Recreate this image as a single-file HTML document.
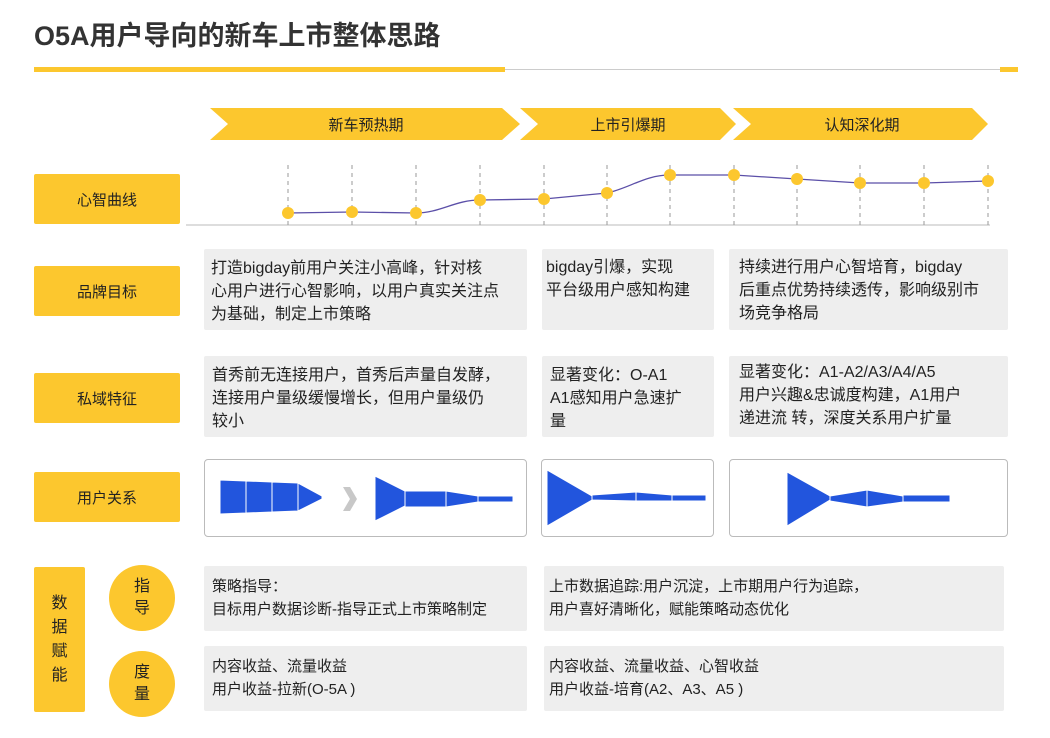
<!DOCTYPE html><html><head><meta charset="utf-8"><style>
body{margin:0;width:1050px;height:738px;background:#fff;font-family:"Liberation Sans","Noto Sans CJK SC",sans-serif;position:relative;overflow:hidden;color:#222}
.a{position:absolute}
.lab{position:absolute;background:#fcc72e;color:#222;font-size:15px;display:flex;align-items:center;justify-content:center;border-radius:2px}
.g{position:absolute;background:#eeeeee;font-size:16px;line-height:23px;padding:8px 8px;box-sizing:border-box;border-radius:2px;white-space:nowrap}
.w{position:absolute;border:1px solid #bbb;border-radius:4px;box-sizing:border-box;background:#fff}
.c{position:absolute;width:66px;height:66px;border-radius:50%;background:#fcc72e;font-size:16px;line-height:22px;text-align:center;display:flex;align-items:center;justify-content:center}
</style></head><body>
<div class="a" style="left:34px;top:14px;font-size:27px;font-weight:bold;color:#333">O5A用户导向的新车上市整体思路</div>
<div class="a" style="left:34px;top:67px;width:471px;height:5px;background:#fcc72e"></div>
<div class="a" style="left:505px;top:69px;width:495px;height:1px;background:#ccc"></div>
<div class="a" style="left:1000px;top:67px;width:18px;height:5px;background:#fcc72e"></div>
<svg class="a" style="left:0;top:0" width="1050" height="738">
<g fill="#fcc72e">
<polygon points="210,108 502,108 520,124 502,140 210,140 228,124"/>
<polygon points="520,108 720,108 736,124 720,140 520,140 538,124"/>
<polygon points="733,108 972,108 988,124 972,140 733,140 751,124"/>
</g>
<g font-size="15" fill="#222" text-anchor="middle" font-family="Liberation Sans,Noto Sans CJK SC,sans-serif">
<text x="366" y="130">新车预热期</text><text x="628" y="130">上市引爆期</text><text x="862" y="130">认知深化期</text></g>
<line x1="186" y1="225" x2="990" y2="225" stroke="#bbb"/>
<g stroke="#999" stroke-dasharray="4,4">
<line x1="288" y1="165" x2="288" y2="225"/><line x1="352" y1="165" x2="352" y2="225"/><line x1="416" y1="165" x2="416" y2="225"/><line x1="480" y1="165" x2="480" y2="225"/><line x1="544" y1="165" x2="544" y2="225"/><line x1="607" y1="165" x2="607" y2="225"/><line x1="670" y1="165" x2="670" y2="225"/><line x1="734" y1="165" x2="734" y2="225"/><line x1="797" y1="165" x2="797" y2="225"/><line x1="860" y1="165" x2="860" y2="225"/><line x1="924" y1="165" x2="924" y2="225"/><line x1="988" y1="165" x2="988" y2="225"/></g>
<path d="M288,213 L352,212 L416,213 C440,213 455,200 480,200 L544,199 L607,193 C630,188 645,175 670,175 L734,175 L797,179 L860,183 L924,183 L988,181" fill="none" stroke="#5b4fa8" stroke-width="1.3"/>
<g fill="#fcc72e"><circle cx="288" cy="213" r="6"/><circle cx="352" cy="212" r="6"/><circle cx="416" cy="213" r="6"/><circle cx="480" cy="200" r="6"/><circle cx="544" cy="199" r="6"/><circle cx="607" cy="193" r="6"/><circle cx="670" cy="175" r="6"/><circle cx="734" cy="175" r="6"/><circle cx="797" cy="179" r="6"/><circle cx="860" cy="183" r="6"/><circle cx="924" cy="183" r="6"/><circle cx="988" cy="181" r="6"/></g>
</svg>
<div class="lab" style="left:34px;top:174px;width:146px;height:50px">心智曲线</div>
<div class="lab" style="left:34px;top:266px;width:146px;height:50px">品牌目标</div>
<div class="lab" style="left:34px;top:373px;width:146px;height:50px">私域特征</div>
<div class="lab" style="left:34px;top:472px;width:146px;height:50px">用户关系</div>
<div class="lab" style="left:34px;top:567px;width:51px;height:145px;font-size:16px;line-height:24px;text-align:center">数<br>据<br>赋<br>能</div>
<div class="c" style="left:109px;top:565px">指<br>导</div>
<div class="c" style="left:109px;top:651px">度<br>量</div>
<div class="g" style="left:204px;top:249px;width:323px;height:81px;padding-left:7px">打造bigday前用户关注小高峰，针对核<br>心用户进行心智影响，以用户真实关注点<br>为基础，制定上市策略</div>
<div class="g" style="left:542px;top:249px;width:172px;height:81px;padding-top:7px;padding-left:4px">bigday引爆，实现<br>平台级用户感知构建</div>
<div class="g" style="left:729px;top:249px;width:279px;height:81px;padding-top:7px;padding-left:10px">持续进行用户心智培育，bigday<br>后重点优势持续透传，影响级别市<br>场竞争格局</div>
<div class="g" style="left:204px;top:356px;width:323px;height:81px">首秀前无连接用户，首秀后声量自发酵，<br>连接用户量级缓慢增长，但用户量级仍<br>较小</div>
<div class="g" style="left:542px;top:356px;width:172px;height:81px">显著变化：O-A1<br>A1感知用户急速扩<br>量</div>
<div class="g" style="left:729px;top:356px;width:279px;height:81px;padding-top:5px;padding-left:10px">显著变化：A1-A2/A3/A4/A5<br>用户兴趣&amp;忠诚度构建，A1用户<br>递进流 转，深度关系用户扩量</div>
<div class="w" style="left:204px;top:459px;width:323px;height:78px"></div>
<div class="w" style="left:541px;top:459px;width:173px;height:78px"></div>
<div class="w" style="left:729px;top:459px;width:279px;height:78px"></div>
<svg class="a" style="left:0;top:0" width="1050" height="738"><g fill="#2255dd" stroke="#fff" stroke-width="1">
<polygon points="220,480 246,481 246,513 220,514"/><polygon points="246,481 272,482 272,512 246,513"/><polygon points="272,482 298,483 298,511 272,512"/><polygon points="298,483 322,496 322,499 298,511"/>
<polygon points="375,476 405,491 405,506 375,521"/><rect x="405" y="491" width="41" height="16"/><polygon points="446,491 478,496 478,502 446,507"/><rect x="478" y="496" width="35" height="6"/>
<polygon points="547,470 592,496 592,500 547,526"/><polygon points="592,495 636,492 636,501 592,500"/><polygon points="636,492 672,495 672,501 636,501"/><rect x="672" y="495" width="34" height="6"/>
<polygon points="787,472 830,496 830,500 787,526"/><polygon points="830,496 867,490 867,507 830,501"/><polygon points="867,490 903,496 903,502 867,507"/><rect x="903" y="495" width="47" height="7"/>
</g><polygon points="343,487 350,487 357,499 350,511 343,511 350,499" fill="#c8c8c8"/></svg>
<div class="g" style="left:204px;top:566px;width:323px;height:65px;padding-top:9px;font-size:15px">策略指导：<br>目标用户数据诊断-指导正式上市策略制定</div>
<div class="g" style="left:544px;top:566px;width:460px;height:65px;padding-top:9px;font-size:15px;padding-left:5px">上市数据追踪:用户沉淀，上市期用户行为追踪，<br>用户喜好清晰化，赋能策略动态优化</div>
<div class="g" style="left:204px;top:646px;width:323px;height:65px;padding-top:9px;font-size:15px">内容收益、流量收益<br>用户收益-拉新(O-5A )</div>
<div class="g" style="left:544px;top:646px;width:460px;height:65px;padding-top:9px;font-size:15px;padding-left:5px">内容收益、流量收益、心智收益<br>用户收益-培育(A2、A3、A5 )</div>
</body></html>
